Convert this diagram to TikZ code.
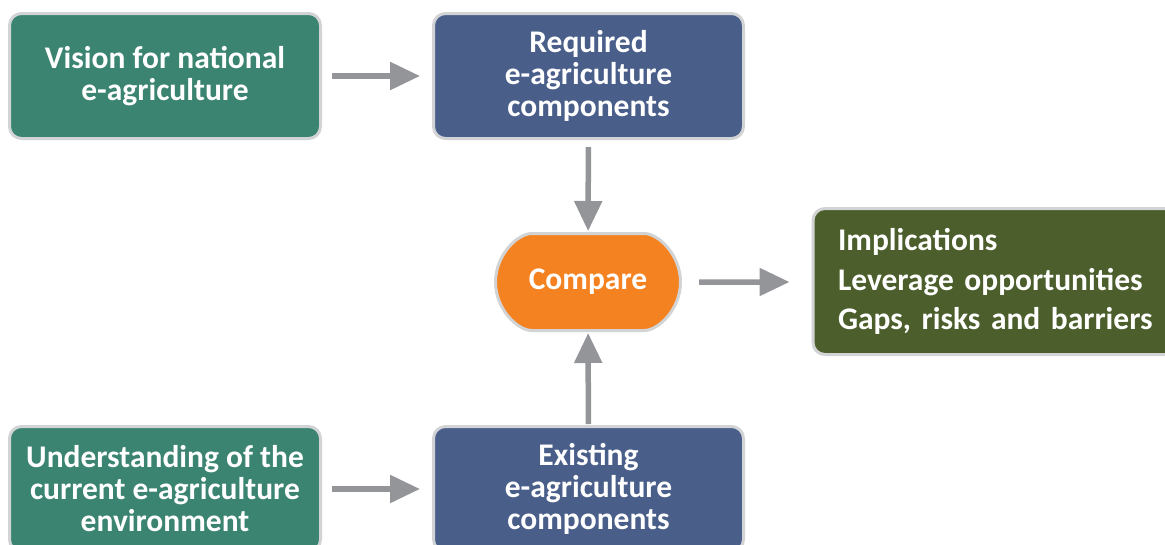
\documentclass[tikz,border=0pt]{standalone}
\usepackage{fontspec}
\setmainfont{Carlito}
\frenchspacing
\usetikzlibrary{arrows.meta,shapes.misc}
\definecolor{visgreen}{HTML}{3B8472}
\definecolor{compblue}{HTML}{4A5E8A}
\definecolor{cmporange}{HTML}{F58220}
\definecolor{outolive}{HTML}{4B5E2B}
\definecolor{rimgray}{HTML}{D1D3D4}
\definecolor{arrgray}{HTML}{939598}
\tikzset{
  box/.style={draw=rimgray, line width=3pt, rounded corners=12pt, text=white,
    font=\fontsize{31.5}{32}\selectfont\bfseries, align=center, inner sep=0pt},
  visbox/.style={box, fill=visgreen, minimum width=311pt, minimum height=125pt},
  compbox/.style={box, fill=compblue, minimum width=310pt, minimum height=125pt},
  pill/.style={box, rounded rectangle, fill=cmporange, minimum width=185pt, minimum height=97pt},
  outbox/.style={box, fill=outolive, align=left, text width=350pt, inner xsep=25pt,
    minimum height=146pt, font=\fontsize{31.5}{39.5}\selectfont\bfseries},
  flow/.style={draw=arrgray, line width=5.5pt, -{Triangle[length=30pt,width=27pt]}}
}
\begin{document}
\begin{tikzpicture}[x=1pt, y=-1pt]
	%%%%% START %%%%%
	\useasboundingbox (0, 0) rectangle (1165, 544);
	
	\node[visbox] (vision) at (165, 76) {Vision for national\\e-agriculture};
	\node[compbox] (required) at (588.5, 76) {Required\\e-agriculture\\components};
	\node[pill] (compare) at (588, 282) {Compare};
	\node[outbox, anchor=west] (implic) at (811.5, 281.5)
		{Implications\\Leverage opportunities\\Gaps, risks and barriers};
	\node[visbox] (underst) at (165, 489) {Understanding of the\\current e-agriculture\\environment};
	\node[compbox] (existing) at (588.5, 489) {Existing\\e-agriculture\\components};
	
	\draw[flow, shorten <=10pt, shorten >=12pt] (vision) -- (required);
	\draw[flow, shorten <=7pt, shorten >=1pt] (required) -- (compare);
	\draw[flow, shorten <=1pt, shorten >=1pt] (existing) -- (compare);
	\draw[flow, shorten <=10pt, shorten >=12pt] (underst) -- (existing);
	\draw[flow, shorten <=17pt, shorten >=22pt] (compare) -- (compare -| implic.west);
	
	%%%%% END %%%%%
\end{tikzpicture}
\end{document}
